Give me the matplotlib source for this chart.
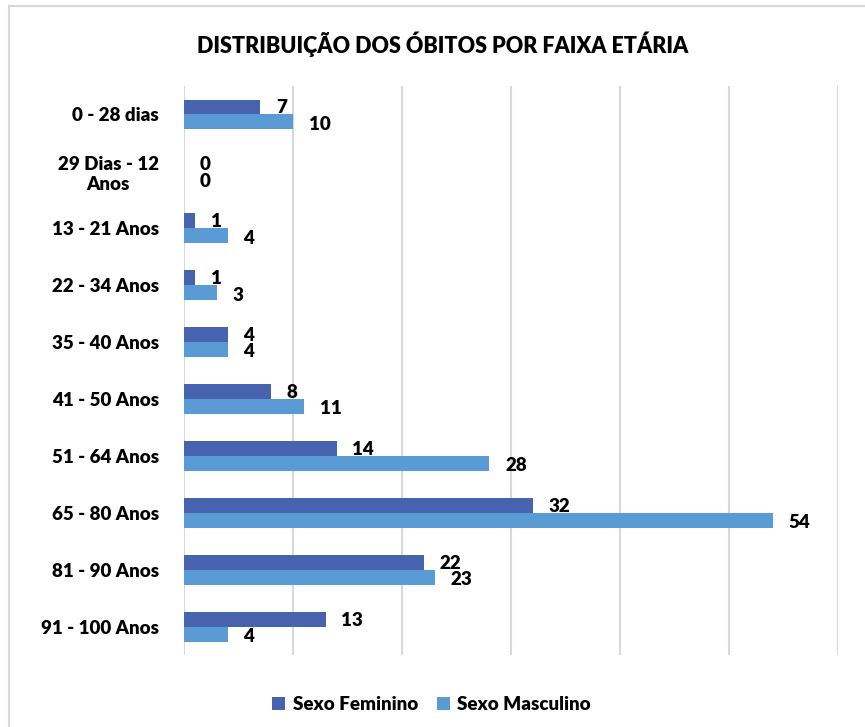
import matplotlib.pyplot as plt
import numpy as np
from matplotlib.lines import Line2D

faixas = ['0 - 28 dias', '29 Dias - 12\nAnos', '13 - 21 Anos', '22 - 34 Anos',
          '35 - 40 Anos', '41 - 50 Anos', '51 - 64 Anos', '65 - 80 Anos',
          '81 - 90 Anos', '91 - 100 Anos']
feminino = [7, 0, 1, 1, 4, 8, 14, 32, 22, 13]
masculino = [10, 0, 4, 3, 4, 11, 28, 54, 23, 4]

plt.rcParams['font.family'] = ['Lato', 'DejaVu Sans']
peso = 'heavy'

fig = plt.figure(figsize=(8.65, 7.27), dpi=100)
ax = fig.add_axes([0.2127, 0.0984, 0.7561, 0.7833])

y = np.arange(len(faixas))
h = 0.262
ax.barh(y - h / 2, feminino, height=h, color='#4763b0', label='Sexo Feminino')
ax.barh(y + h / 2, masculino, height=h, color='#5b9bd5', label='Sexo Masculino')

for i in range(len(faixas)):
    ax.text(feminino[i] + 1.45, y[i] - h / 2 + 0.01, str(feminino[i]), va='center',
            ha='left', fontsize=13.5, fontweight=peso)
    ax.text(masculino[i] + 1.45, y[i] + h / 2 + 0.04, str(masculino[i]), va='center',
            ha='left', fontsize=13.5, fontweight=peso)

ax.set_xlim(0, 60)
ax.set_ylim(len(faixas) - 0.5, -0.5)
ax.set_xticks(range(0, 61, 10))
ax.xaxis.grid(True, color='#d9d9d9', linewidth=1.5)
ax.set_axisbelow(True)
ax.tick_params(axis='x', length=0, labelbottom=False)
ax.tick_params(axis='y', length=0, pad=18)
ax.set_yticks(y)
ax.set_yticklabels(faixas, fontsize=13.5, fontweight=peso, multialignment='center')
for s in ax.spines.values():
    s.set_visible(False)

fig.suptitle('DISTRIBUIÇÃO DOS ÓBITOS POR FAIXA ETÁRIA', x=0.512, y=0.957,
             fontsize=15.5, fontweight=peso)

fig.legend(loc='center', bbox_to_anchor=(0.499, 0.031), ncol=2, frameon=False,
           prop={'size': 13.5, 'weight': peso}, handlelength=0.7, handleheight=0.7,
           handletextpad=0.4, columnspacing=1.0)

# moldura cinza do grafico
fig.add_artist(Line2D([9 / 865, 9 / 865], [0, 1 - 6 / 727], transform=fig.transFigure,
                      color='#d9d9d9', linewidth=1.5))
fig.add_artist(Line2D([9 / 865, 1], [1 - 6 / 727, 1 - 6 / 727], transform=fig.transFigure,
                      color='#d9d9d9', linewidth=1.5))

plt.savefig('out.png', dpi=100)
